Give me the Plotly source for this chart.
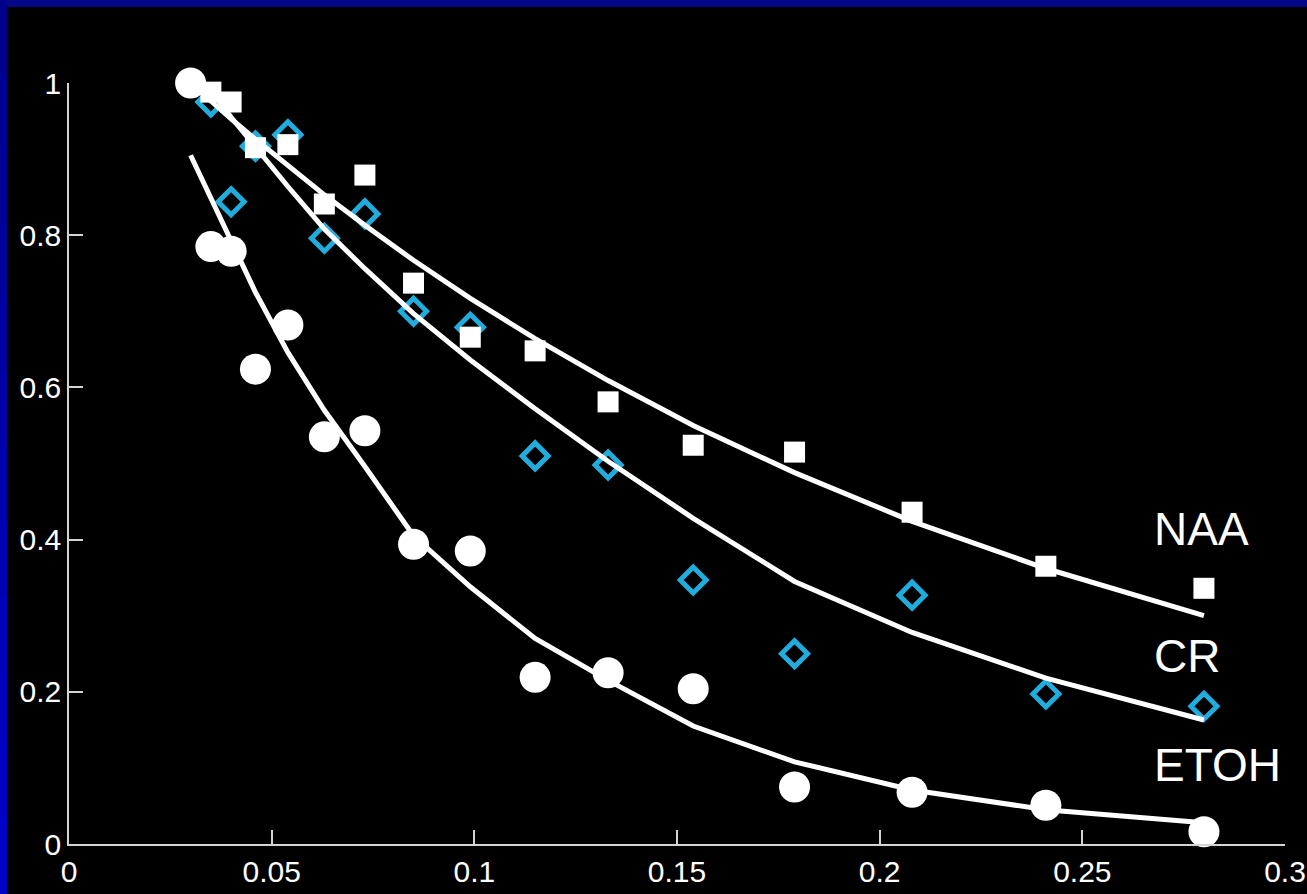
import plotly.graph_objects as go

# ---- data ----
x_vals = [0.03, 0.035, 0.04, 0.046, 0.054, 0.063, 0.073, 0.085, 0.099,
          0.115, 0.133, 0.154, 0.179, 0.208, 0.241, 0.28]

naa_pts = [1.0, 0.988, 0.975, 0.915, 0.919, 0.841, 0.879, 0.737, 0.666,
           0.648, 0.581, 0.524, 0.515, 0.436, 0.365, 0.336]
cr_pts = [1.0, 0.975, 0.844, 0.917, 0.932, 0.796, 0.828, 0.700, 0.679,
          0.510, 0.498, 0.347, 0.250, 0.327, 0.197, 0.181]
etoh_pts = [1.0, 0.785, 0.779, 0.624, 0.682, 0.535, 0.543, 0.394, 0.385,
            0.219, 0.225, 0.204, 0.075, 0.068, 0.051, 0.016]

naa_fit = [1.0, 0.976, 0.953, 0.926, 0.891, 0.853, 0.813, 0.767, 0.717,
           0.664, 0.609, 0.550, 0.488, 0.424, 0.362, 0.300]
cr_fit = [1.02, 0.99, 0.955, 0.915, 0.864, 0.808, 0.756, 0.697, 0.636,
          0.572, 0.503, 0.428, 0.345, 0.278, 0.218, 0.163]
etoh_fit = [0.905, 0.848, 0.790, 0.725, 0.646, 0.570, 0.496, 0.405, 0.338,
            0.270, 0.215, 0.155, 0.108, 0.071, 0.045, 0.028]

series_labels = ["NAA", "CR", "ETOH"]
label_y = [0.414, 0.247, 0.104]
label_x = 0.2672

x_ticks = [0, 0.05, 0.1, 0.15, 0.2, 0.25, 0.3]
x_ticktext = ["0", "0.05", "0.1", "0.15", "0.2", "0.25", "0.3"]
y_ticks = [0, 0.2, 0.4, 0.6, 0.8, 1.0]
y_ticktext = ["0", "0.2", "0.4", "0.6", "0.8", "1"]

CYAN = "#20addd"
AXIS = "#d4d4d4"
FONT = "Liberation Sans, Arial, Helvetica, sans-serif"

fig = go.Figure()

# CR markers (open diamonds)
fig.add_trace(go.Scatter(
    x=x_vals[1:], y=cr_pts[1:], mode="markers", cliponaxis=False,
    marker=dict(symbol="diamond-open", size=20, color=CYAN,
                line=dict(width=5, color=CYAN)),
    showlegend=False, hoverinfo="skip"))

# fitted curves
for fit in (naa_fit, cr_fit, etoh_fit):
    fig.add_trace(go.Scatter(
        x=x_vals, y=fit, mode="lines", cliponaxis=False,
        line=dict(color="white", width=5),
        showlegend=False, hoverinfo="skip"))

# NAA markers (filled squares)
fig.add_trace(go.Scatter(
    x=x_vals[1:], y=naa_pts[1:], mode="markers", cliponaxis=False,
    marker=dict(symbol="square", size=21, color="white", line=dict(width=0)),
    showlegend=False, hoverinfo="skip"))

# ETOH markers (filled circles)
fig.add_trace(go.Scatter(
    x=x_vals, y=etoh_pts, mode="markers", cliponaxis=False,
    marker=dict(symbol="circle", size=31, color="white", line=dict(width=0)),
    showlegend=False, hoverinfo="skip"))

for name, ly in zip(series_labels, label_y):
    fig.add_annotation(x=label_x, y=ly, xref="x", yref="y", text=name,
                       showarrow=False, xanchor="left", yanchor="middle",
                       font=dict(family=FONT, size=46, color="white"))

# slide border (navy top, blue gradient on left)
shapes = [dict(type="rect", xref="paper", yref="paper",
               xsizemode="pixel", ysizemode="pixel", xanchor=0, yanchor=1,
               x0=-80, x1=1300, y0=76, y1=100,
               fillcolor="#06068a", line=dict(width=0), layer="below")]
n_seg = 12
total_h = 894
for i in range(n_seg):
    top = i * total_h / n_seg
    bot = (i + 1) * total_h / n_seg
    t = (i + 0.5) / n_seg
    b = int(0x88 + (0xcc - 0x88) * t)
    shapes.append(dict(type="rect", xref="paper", yref="paper",
                       xsizemode="pixel", ysizemode="pixel", xanchor=0, yanchor=1,
                       x0=-80, x1=-62, y0=83 - bot - 1, y1=83 - top,
                       fillcolor="#0000%02x" % b, line=dict(width=0), layer="below"))
fig.update_layout(shapes=shapes)

fig.update_layout(
    width=1307, height=894, autosize=False,
    margin=dict(l=69, r=22, t=83, b=50, pad=0, autoexpand=False),
    paper_bgcolor="black", plot_bgcolor="black",
    font=dict(family=FONT, color="white"),
    xaxis=dict(range=[0, 0.3], tickvals=x_ticks, ticktext=x_ticktext,
               ticks="inside", ticklen=14, tickwidth=1.5, tickcolor=AXIS,
               showline=True, linecolor=AXIS, linewidth=1.5, automargin=False,
               showgrid=False, zeroline=False, ticklabeloverflow="allow",
               tickfont=dict(family=FONT, size=30, color="white")),
    yaxis=dict(range=[0, 1], tickvals=y_ticks, ticktext=y_ticktext,
               ticks="inside", ticklen=14, tickwidth=1.5, tickcolor=AXIS,
               showline=True, linecolor=AXIS, linewidth=1.5, automargin=False,
               showgrid=False, zeroline=False, ticklabeloverflow="allow",
               tickfont=dict(family=FONT, size=30, color="white")),
)

fig.write_html(
    "out.html",
    config={"displayModeBar": False},
    post_script="document.body.style.margin='0';"
                "document.body.style.overflow='hidden';"
                "document.body.style.background='black';")
